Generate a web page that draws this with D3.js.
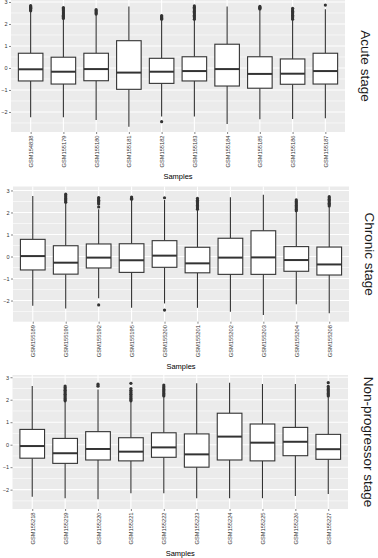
<!DOCTYPE html>
<html>
<head>
<meta charset="utf-8">
<script src="https://cdn.jsdelivr.net/npm/d3@7"></script>
<style>
  body { margin: 0; background: #fff; }
  svg { display: block; font-family: "Liberation Sans", Arial, sans-serif; }
</style>
</head>
<body>
<div id="chart"></div>
<script>
// tick values shared by all three panels
const yTicks = [-2, -1, 0, 1, 2, 3];
const yMinor = [-2.5, -1.5, -0.5, 0.5, 1.5, 2.5];

// --- Acute stage ---
const acuteSamples = ["GSM154838", "GSM155179", "GSM155180", "GSM155181", "GSM155182",
                      "GSM155183", "GSM155184", "GSM155185", "GSM155186", "GSM155187"];
// [lower whisker, q1, median, q3, upper whisker]
const acuteBoxes = [
  [-2.24, -0.59, -0.06, 0.67, 2.56],
  [-2.24, -0.73, -0.17, 0.49, 2.21],
  [-2.36, -0.58, -0.05, 0.67, 2.41],
  [-2.67, -0.97, -0.21, 1.24, 2.79],
  [-2.21, -0.70, -0.17, 0.44, 2.18],
  [-2.21, -0.59, -0.14, 0.51, 2.18],
  [-2.55, -0.82, -0.05, 1.08, 2.79],
  [-2.33, -0.92, -0.27, 0.51, 2.64],
  [-2.32, -0.74, -0.26, 0.41, 2.18],
  [-2.29, -0.73, -0.14, 0.67, 2.67]
];
const acuteOutliers = [
  [2.6, 2.64, 2.68, 2.72, 2.76, 2.8, 2.83],
  [2.25, 2.3, 2.35, 2.4, 2.45, 2.5, 2.55, 2.6, 2.65, 2.7, 2.75],
  [2.45, 2.5, 2.55, 2.6, 2.65],
  [],
  [2.22, 2.26, 2.3, 2.34, 2.38, -2.44],
  [2.22, 2.28, 2.34, 2.4, 2.46, 2.52, 2.58, 2.64, 2.7, 2.76, 2.82],
  [],
  [2.68, 2.72, 2.76, 2.8],
  [2.22, 2.28, 2.34, 2.4, 2.46, 2.52, 2.58, 2.64, 2.71],
  [2.86]
];

// --- Chronic stage ---
const chronicSamples = ["GSM155189", "GSM155190", "GSM155192", "GSM155195", "GSM155200",
                        "GSM155201", "GSM155202", "GSM155203", "GSM155204", "GSM155208"];
const chronicBoxes = [
  [-2.24, -0.61, 0.02, 0.78, 2.75],
  [-2.36, -0.80, -0.28, 0.49, 2.42],
  [-1.90, -0.52, -0.05, 0.57, 2.15],
  [-2.33, -0.72, -0.17, 0.58, 2.57],
  [-2.13, -0.49, 0.04, 0.72, 2.57],
  [-2.33, -0.74, -0.31, 0.42, 2.11],
  [-2.51, -0.81, -0.05, 0.83, 2.69],
  [-2.66, -0.81, -0.04, 1.17, 2.80],
  [-2.17, -0.67, -0.16, 0.45, 2.04],
  [-2.58, -0.84, -0.36, 0.43, 2.26]
];
const chronicOutliers = [
  [],
  [2.46, 2.52, 2.58, 2.64, 2.7, 2.76, 2.83],
  [2.25, 2.38, 2.44, 2.5, 2.56, 2.62, 2.68, -2.2],
  [2.6, 2.65, 2.7],
  [2.67, -2.43],
  [2.15, 2.2, 2.26, 2.32, 2.38, 2.44, 2.5, 2.56, 2.64],
  [],
  [],
  [2.08, 2.14, 2.2, 2.26, 2.32, 2.38, 2.44, 2.5, 2.57],
  [2.3, 2.36, 2.42, 2.48, 2.54, 2.6, 2.66, 2.72]
];

// --- Non-progressor stage ---
const nonSamples = ["GSM155218", "GSM155219", "GSM155220", "GSM155221", "GSM155222",
                    "GSM155223", "GSM155224", "GSM155225", "GSM155226", "GSM155227"];
const nonBoxes = [
  [-2.31, -0.60, -0.06, 0.68, 2.61],
  [-2.38, -0.83, -0.38, 0.28, 1.91],
  [-2.43, -0.68, -0.19, 0.58, 2.46],
  [-2.16, -0.72, -0.31, 0.31, 1.91],
  [-2.16, -0.56, -0.12, 0.53, 2.13],
  [-2.38, -1.00, -0.43, 0.48, 2.73],
  [-2.38, -0.68, 0.36, 1.40, 2.76],
  [-2.38, -0.72, 0.09, 0.92, 2.70],
  [-2.28, -0.49, 0.13, 0.77, 2.70],
  [-2.19, -0.65, -0.20, 0.46, 2.13]
];
const nonOutliers = [
  [],
  [1.95, 2.0, 2.06, 2.12, 2.18, 2.24, 2.3, 2.36, 2.42, 2.48, 2.54, 2.61],
  [2.6, 2.65, 2.7],
  [1.95, 2.0, 2.06, 2.12, 2.18, 2.24, 2.3, 2.36, 2.42, 2.5, 2.73],
  [2.17, 2.22, 2.28, 2.34, 2.4, 2.46, 2.52, 2.58, 2.65],
  [],
  [],
  [],
  [],
  [2.17, 2.22, 2.28, 2.34, 2.4, 2.46, 2.52, 2.59, 2.76]
];

// layout of each facet (pixels) – only positions, no data
const panels = [
  { title: "Acute stage", samples: acuteSamples, boxes: acuteBoxes, outliers: acuteOutliers,
    left: 11, right: 345, top: 0, bottom: 132, yDomain: [-2.91, 3.09] },
  { title: "Chronic stage", samples: chronicSamples, boxes: chronicBoxes, outliers: chronicOutliers,
    left: 13, right: 349, top: 186.5, bottom: 321.7, yDomain: [-2.96, 3.18] },
  { title: "Non-progressor stage", samples: nonSamples, boxes: nonBoxes, outliers: nonOutliers,
    left: 12.5, right: 348, top: 375, bottom: 509, yDomain: [-2.86, 3.1] }
];

const W = 378, H = 558;
const svg = d3.select("#chart").append("svg")
  .attr("width", W)
  .attr("height", H);

const lineCol = "#333333";

panels.forEach(p => {
  const g = svg.append("g");

  // ggplot style discrete scale: 0.6 units of padding each side
  const x = d3.scalePoint()
    .domain(p.samples)
    .range([p.left, p.right])
    .padding(0.6);
  const step = x.step();
  const boxW = step * 0.75;

  const y = d3.scaleLinear()
    .domain(p.yDomain)
    .range([p.bottom, p.top]);

  // panel background
  g.append("rect")
    .attr("x", p.left).attr("y", p.top)
    .attr("width", p.right - p.left)
    .attr("height", p.bottom - p.top)
    .attr("fill", "#EBEBEB");

  // minor grid
  g.selectAll("line.minor")
    .data(yMinor)
    .enter().append("line")
    .attr("x1", p.left).attr("x2", p.right)
    .attr("y1", d => y(d)).attr("y2", d => y(d))
    .attr("stroke", "#fff").attr("stroke-width", 0.6);

  // major grid y
  g.selectAll("line.majorY")
    .data(yTicks)
    .enter().append("line")
    .attr("x1", p.left).attr("x2", p.right)
    .attr("y1", d => y(d)).attr("y2", d => y(d))
    .attr("stroke", "#fff").attr("stroke-width", 1.1);

  // major grid x
  g.selectAll("line.majorX")
    .data(p.samples)
    .enter().append("line")
    .attr("x1", d => x(d)).attr("x2", d => x(d))
    .attr("y1", p.top).attr("y2", p.bottom)
    .attr("stroke", "#fff").attr("stroke-width", 1.1);

  // y axis
  const gy = g.append("g")
    .attr("transform", `translate(${p.left},0)`)
    .call(d3.axisLeft(y).tickValues(yTicks).tickSize(2).tickPadding(1.5).tickFormat(d3.format("d")));
  gy.select(".domain").remove();
  gy.selectAll("line").attr("stroke", "#333").attr("stroke-width", 0.6);
  gy.selectAll("text")
    .attr("fill", "#333")
    .style("font-size", "5.5px")
    .style("font-family", "Liberation Sans, Arial, sans-serif");

  // x axis, rotated labels
  const gx = g.append("g")
    .attr("transform", `translate(0,${p.bottom})`)
    .call(d3.axisBottom(x).tickSize(2).tickPadding(1.5));
  gx.select(".domain").remove();
  gx.selectAll("line").attr("stroke", "#333").attr("stroke-width", 0.6);
  gx.selectAll("text")
    .attr("fill", "#333")
    .style("font-size", "5.7px")
    .style("font-family", "Liberation Sans, Arial, sans-serif")
    .attr("transform", "rotate(-90)")
    .attr("x", -3.5)
    .attr("y", 0)
    .attr("dy", "0.35em")
    .style("text-anchor", "end");

  const items = p.samples.map((s, i) => ({
    s, lo: p.boxes[i][0], q1: p.boxes[i][1], med: p.boxes[i][2],
    q3: p.boxes[i][3], hi: p.boxes[i][4], out: p.outliers[i]
  }));

  // whiskers
  g.selectAll("line.whiskHi")
    .data(items).enter().append("line")
    .attr("x1", d => x(d.s)).attr("x2", d => x(d.s))
    .attr("y1", d => y(d.q3)).attr("y2", d => y(d.hi))
    .attr("stroke", lineCol).attr("stroke-width", 1.1);
  g.selectAll("line.whiskLo")
    .data(items).enter().append("line")
    .attr("x1", d => x(d.s)).attr("x2", d => x(d.s))
    .attr("y1", d => y(d.q1)).attr("y2", d => y(d.lo))
    .attr("stroke", lineCol).attr("stroke-width", 1.1);

  // boxes
  g.selectAll("rect.box")
    .data(items).enter().append("rect")
    .attr("x", d => x(d.s) - boxW / 2)
    .attr("y", d => y(d.q3))
    .attr("width", boxW)
    .attr("height", d => y(d.q1) - y(d.q3))
    .attr("fill", "#fff")
    .attr("stroke", lineCol).attr("stroke-width", 1.1);

  // medians
  g.selectAll("line.med")
    .data(items).enter().append("line")
    .attr("x1", d => x(d.s) - boxW / 2).attr("x2", d => x(d.s) + boxW / 2)
    .attr("y1", d => y(d.med)).attr("y2", d => y(d.med))
    .attr("stroke", lineCol).attr("stroke-width", 2);

  // outliers
  const pts = items.flatMap(d => d.out.map(v => ({ s: d.s, v })));
  g.selectAll("circle.out")
    .data(pts).enter().append("circle")
    .attr("cx", d => x(d.s))
    .attr("cy", d => y(d.v))
    .attr("r", 1.6)
    .attr("fill", lineCol);

  // x axis title
  g.append("text")
    .attr("x", (p.left + p.right) / 2)
    .attr("y", p.bottom + 47)
    .attr("text-anchor", "middle")
    .style("font-size", "7.5px")
    .attr("fill", "#000")
    .text("Samples");

  // right strip label (no strip background)
  const cy = (p.top + p.bottom) / 2;
  g.append("text")
    .attr("transform", `translate(${p.right + 21},${cy}) rotate(90)`)
    .attr("text-anchor", "middle")
    .attr("dy", "0.35em")
    .style("font-size", "13.5px")
    .attr("fill", "#1A1A1A")
    .text(p.title);
});
</script>
</body>
</html>
